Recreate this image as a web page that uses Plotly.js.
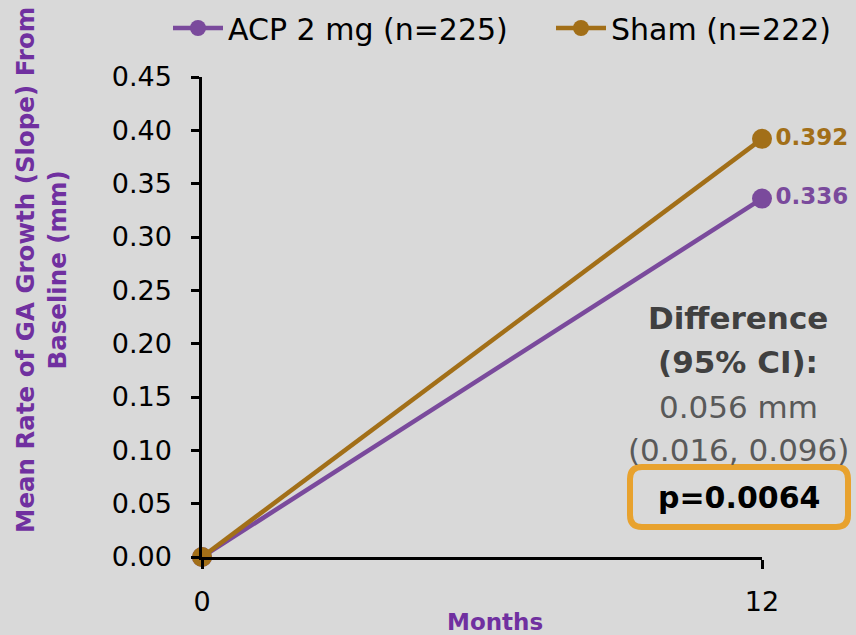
<!DOCTYPE html>
<html>
<head>
<meta charset="utf-8">
<script src="https://cdn.plot.ly/plotly-3.0.1.min.js"></script>
<style>html,body{margin:0;padding:0;background:#d9d9d9;}#chart{width:856px;height:635px;}</style>
</head>
<body>
<div id="chart"></div>
<script>
// ---- data ----
const months = [0, 12];
const acpValues = [0, 0.336];
const shamValues = [0, 0.392];
const seriesNames = ['ACP 2 mg (n=225)', 'Sham (n=222)'];
const yTickVals = [0, 0.05, 0.10, 0.15, 0.20, 0.25, 0.30, 0.35, 0.40, 0.45];
const yTickText = ['0.00','0.05','0.10','0.15','0.20','0.25','0.30','0.35','0.40','0.45'];
const xTickVals = [0, 12];
const xTickText = ['0', '12'];
const diffLines = ['Difference', '(95% CI):', '0.056 mm', '(0.016, 0.096)'];
const pText = 'p=0.0064';

// ---- styles ----
const FONT = 'DejaVu Sans, Lato, sans-serif';
const PURPLE = '#7a4a9c';
const GOLD = '#a26f18';
const TITLE_PURPLE = '#7030a0';

function endLabels(vals) {
  return vals.map((v, i) => i === vals.length - 1 ? v.toFixed(3) : '');
}

const traces = [
  {
    x: months, y: acpValues, name: seriesNames[0], type: 'scatter', mode: 'lines+markers+text',
    line: {color: PURPLE, width: 4.5}, marker: {color: PURPLE, size: 20},
    text: endLabels(acpValues), textposition: 'middle right',
    textfont: {family: FONT, size: 23, color: PURPLE, weight: 'bold'},
    cliponaxis: false, hoverinfo: 'x+y'
  },
  {
    x: months, y: shamValues, name: seriesNames[1], type: 'scatter', mode: 'lines+markers+text',
    line: {color: GOLD, width: 4.5}, marker: {color: GOLD, size: 20},
    text: endLabels(shamValues), textposition: 'middle right',
    textfont: {family: FONT, size: 23, color: GOLD, weight: 'bold'},
    cliponaxis: false, hoverinfo: 'x+y'
  }
];

// plot area in pixels: left 202, right 762, top 77, bottom 557
const L = 202, R = 762, T = 77, B = 557;
const px2x = p => (p - L) / (R - L);
const py2y = p => (B - p) / (B - T);

function roundRect(x0, y0, x1, y1, r) {
  const X = px2x, Y = py2y;
  return `M ${X(x0 + r)} ${Y(y0)} L ${X(x1 - r)} ${Y(y0)} Q ${X(x1)} ${Y(y0)} ${X(x1)} ${Y(y0 + r)} ` +
         `L ${X(x1)} ${Y(y1 - r)} Q ${X(x1)} ${Y(y1)} ${X(x1 - r)} ${Y(y1)} ` +
         `L ${X(x0 + r)} ${Y(y1)} Q ${X(x0)} ${Y(y1)} ${X(x0)} ${Y(y1 - r)} ` +
         `L ${X(x0)} ${Y(y0 + r)} Q ${X(x0)} ${Y(y0)} ${X(x0 + r)} ${Y(y0)} Z`;
}

const diffY = [318, 362, 407, 450];
const annotations = diffLines.map((t, i) => ({
  xref: 'paper', yref: 'paper', x: px2x(738), y: py2y(diffY[i]),
  xanchor: 'center', yanchor: 'middle', showarrow: false,
  text: i < 2 ? '<b>' + t + '</b>' : t,
  font: {family: FONT, size: 31, color: i < 2 ? '#404040' : '#595959'}
}));
annotations.push({
  xref: 'paper', yref: 'paper', x: px2x(739), y: py2y(497),
  xanchor: 'center', yanchor: 'middle', showarrow: false,
  text: '<b>' + pText + '</b>', font: {family: FONT, size: 30, color: '#000000'}
});
annotations.push({
  xref: 'paper', yref: 'paper', x: px2x(41), y: py2y(270),
  xanchor: 'center', yanchor: 'middle', showarrow: false, textangle: -90,
  text: '<b>Mean Rate of GA Growth (Slope) From<br>Baseline (mm)</b>',
  font: {family: FONT, size: 24.5, color: TITLE_PURPLE}
});
annotations.push({
  xref: 'paper', yref: 'paper', x: px2x(495), y: py2y(622),
  xanchor: 'center', yanchor: 'middle', showarrow: false,
  text: '<b>Months</b>', font: {family: FONT, size: 23, color: TITLE_PURPLE}
});

const layout = {
  width: 856, height: 635,
  paper_bgcolor: '#d9d9d9', plot_bgcolor: '#d9d9d9',
  margin: {l: L, r: 856 - R, t: T, b: 635 - B, pad: 0, autoexpand: false},
  font: {family: FONT, color: '#000000'},
  showlegend: true,
  legend: {
    orientation: 'h', x: px2x(168), xanchor: 'left', y: py2y(28), yanchor: 'middle',
    itemwidth: 50, entrywidth: 318, entrywidthmode: 'pixels',
    font: {family: FONT, size: 30, color: '#000000'}, bgcolor: 'rgba(0,0,0,0)'
  },
  xaxis: {
    range: [0, 12], tickvals: xTickVals, ticktext: xTickText,
    showline: true, linecolor: '#000000', linewidth: 2.5,
    ticks: 'outside', ticklen: 9, tickwidth: 2.5, tickcolor: '#000000',
    showgrid: false, zeroline: false, ticklabelstandoff: 10,
    tickfont: {family: FONT, size: 27, color: '#000000'}, fixedrange: true
  },
  yaxis: {
    range: [0, 0.45], tickvals: yTickVals, ticktext: yTickText,
    showline: true, linecolor: '#000000', linewidth: 2.5,
    ticks: 'outside', ticklen: 8, tickwidth: 2.5, tickcolor: '#000000',
    showgrid: false, zeroline: false, ticklabelstandoff: 14,
    tickfont: {family: FONT, size: 27, color: '#000000'}, fixedrange: true
  },
  shapes: [{
    type: 'path', xref: 'paper', yref: 'paper', path: roundRect(630, 467, 848, 527, 12),
    line: {color: '#e8a22e', width: 6}, fillcolor: 'rgba(0,0,0,0)'
  }],
  annotations: annotations
};

Plotly.newPlot('chart', traces, layout, {displayModeBar: false, staticPlot: false});
</script>
</body>
</html>
